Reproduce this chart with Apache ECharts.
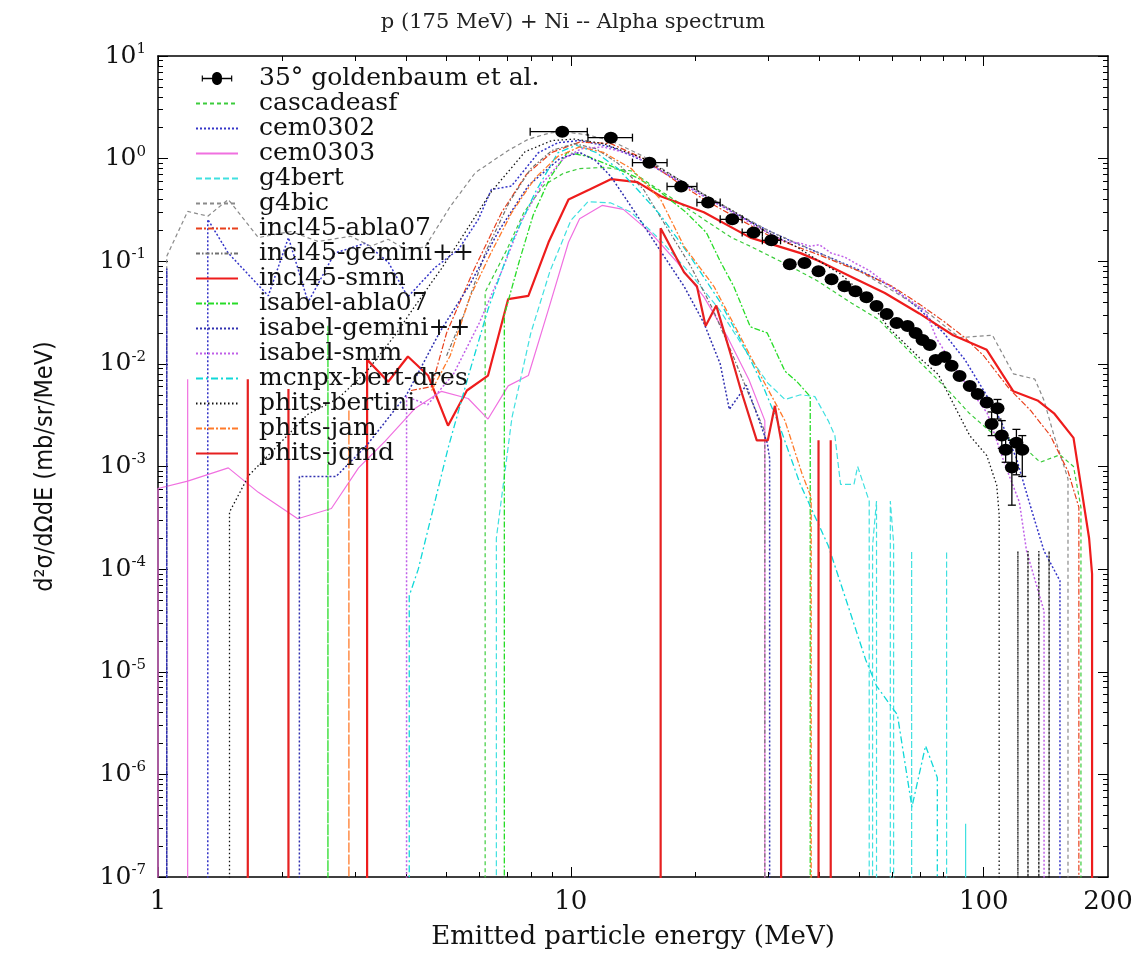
<!DOCTYPE html>
<html><head><meta charset="utf-8">
<script src="https://cdn.jsdelivr.net/npm/echarts@6/dist/echarts.min.js"></script>
<style>html,body{margin:0;padding:0;background:#fff}#chart{width:1146px;height:955px}</style>
</head><body><div id="chart"></div>
<script>
// ---- axis ticks / labels ----
const xLabelValues = [1, 10, 100, 200];
const xLabelTexts = ['1', '10', '100', '200'];
const xMajorTicks = [1, 10, 100];
const xMinorTicks = [2, 3, 4, 5, 6, 7, 8, 9, 20, 30, 40, 50, 60, 70, 80, 90];
const yLabelValues = [1e-7, 1e-6, 1e-5, 1e-4, 1e-3, 1e-2, 1e-1, 1, 10];
const yLabelExps = ['-7', '-6', '-5', '-4', '-3', '-2', '-1', '0', '1'];
const minorMultipliers = [2, 3, 4, 5, 6, 7, 8, 9];

// zero-valued bin (falls below the log axis and is clipped)
const Z = 1e-9;

// ---- experimental data: 35 deg, Goldenbaum et al. ----
const expE   = [9.53, 12.5, 15.5, 18.5, 21.5, 24.6, 27.7, 30.6, 33.9, 36.8, 39.8, 42.8, 46.0, 48.9, 52.0, 55.0, 58.2, 61.5, 65.4, 68.4, 71.1, 74.0, 76.5, 80.4, 83.6, 87.4, 92.5, 96.7, 101.7, 108, 104.5, 110.6, 113, 120, 124, 117];
const expV   = [1.83, 1.6, 0.914, 0.535, 0.374, 0.256, 0.191, 0.160, 0.0935, 0.096, 0.080, 0.0669, 0.0571, 0.0511, 0.0447, 0.0366, 0.0306, 0.025, 0.0234, 0.020, 0.0171, 0.0153, 0.0109, 0.0117, 0.0096, 0.0076, 0.0061, 0.0051, 0.0042, 0.0037, 0.0026, 0.0020, 0.00146, 0.0017, 0.00146, 0.00098];
const expELo = [7.97, 11.0, 14.1, 17.1, 20.2, 23.0, 26.0, 29.1, null, null, null, null, null, null, null, null, null, null, null, null, null, null, null, null, null, null, null, null, null, null, null, null, null, null, null, null];
const expEHi = [10.96, 14.1, 17.1, 20.2, 23.0, 26.0, 29.1, 32.2, null, null, null, null, null, null, null, null, null, null, null, null, null, null, null, null, null, null, null, null, null, null, null, null, null, null, null, null];
const expVLo = [null, null, null, null, null, null, null, null, null, null, null, null, null, null, null, null, null, null, null, null, null, null, null, null, null, null, null, null, null, 0.0029, 0.0020, 0.0015, 0.0011, 0.00083, 0.0008, 0.00042];
const expVHi = [null, null, null, null, null, null, null, null, null, null, null, null, null, null, null, null, null, null, null, null, null, null, null, null, null, null, null, null, null, 0.0045, 0.0034, 0.0028, 0.0019, 0.0023, 0.0020, 0.0018];

// ---- model calculations [energy MeV, d2sigma/dOmega dE] ----
const cascadeasf = [[6.2,Z],[6.2,0.05],[7.0,0.13],[7.7,0.3],[8.6,0.55],[9.6,0.72],[10.5,0.8],[12,0.82],[14,0.76],[15.6,0.56],[18.5,0.36],[21.5,0.24],[24.5,0.17],[27.2,0.14],[33,0.095],[39.4,0.065],[47.9,0.039],[55.7,0.027],[61.3,0.018],[69.9,0.0105],[81.1,0.0058],[92.3,0.0033],[105,0.0021],[122,0.0017],[137,0.0011],[153,0.0013],[165,0.001],[172,4e-4],[172,Z]];
const cem0302 = [[1.32,Z],[1.32,0.256],[1.48,0.12],[1.85,0.046],[2.07,0.17],[2.31,0.04],[2.68,0.12],[3.18,0.15],[3.61,0.098],[4.03,0.045],[4.69,0.087],[5.34,0.13],[5.97,0.256],[6.42,0.5],[7.18,0.54],[8.34,1.14],[9.3,1.43],[10.5,1.5],[12.5,1.3],[15,0.95],[18,0.62],[21,0.43],[25,0.29],[30,0.2],[35,0.15],[40,0.12],[50,0.082],[60,0.056],[70,0.034],[80,0.02],[90,0.011],[100,0.0055],[110,0.0028],[120,0.0012],[130,4e-4],[140,1.5e-4],[153,7.7e-5],[153,Z]];
const cem0303 = [[1.18,Z],[1.18,0.0071],[1.18,Z],[1.0,Z],[1.0,6.1e-4],[1.18,7.2e-4],[1.48,9.7e-4],[1.75,5.6e-4],[2.18,3.1e-4],[2.63,3.9e-4],[3.06,9.7e-4],[3.55,0.00177],[4.2,0.0037],[4.86,0.0054],[5.64,0.0046],[6.3,0.0029],[7.05,0.0061],[7.89,0.0077],[8.83,0.0342],[9.87,0.153],[10.5,0.26],[11.9,0.35],[13.4,0.32],[15.6,0.19],[18,0.1],[21,0.045],[24,0.018],[27,0.007],[29.5,0.0028],[29.5,Z]];
const g4bert = [[6.6,Z],[6.6,2e-4],[7.2,0.003],[8.0,0.02],[8.9,0.08],[10,0.25],[11,0.38],[12.5,0.37],[14,0.3],[16.5,0.16],[19.5,0.075],[23,0.033],[27,0.012],[30,0.0065],[33,0.0045],[36,0.005],[39,0.0048],[42,0.0028],[43.6,0.002],[45,6.7e-4],[48.5,6.7e-4],[49.5,1e-3],[52.8,4.6e-4],[52.8,Z],[53.8,Z],[53.8,1.7e-4],[55,4.6e-4],[55,Z],[59.4,Z],[59.4,4.6e-4],[60.5,1.8e-4],[60.5,Z],[66.9,Z],[66.9,1.5e-4],[66.9,Z],[81.3,Z],[81.3,1.5e-4],[81.3,Z],[90.4,Z],[90.4,3.3e-7],[90.4,Z]];
const g4bic = [[1.05,Z],[1.05,0.112],[1.18,0.306],[1.32,0.275],[1.48,0.4],[1.75,0.17],[2.1,0.195],[2.44,0.156],[2.93,0.175],[3.28,0.14],[3.61,0.164],[3.97,0.131],[4.43,0.137],[5.1,0.34],[5.87,0.73],[7.05,1.2],[7.9,1.55],[8.9,1.78],[9.6,1.83],[11,1.7],[12.5,1.5],[15,1.05],[18,0.65],[21,0.45],[25,0.3],[30,0.2],[40,0.12],[50,0.08],[60,0.052],[73.6,0.031],[87.4,0.018],[105,0.019],[118,0.008],[133,0.0071],[140,0.0044],[148,0.002],[160,7.6e-4],[160,Z]];
const incl45_abla07 = [[4.1,0.0055],[4.6,0.006],[5.0,0.02],[5.8,0.08],[6.8,0.3],[7.8,0.7],[9.0,1.15],[10.5,1.45],[12.5,1.4],[15,1.0],[18,0.6],[21,0.4],[25,0.27],[30,0.18],[35,0.14],[40,0.115],[50,0.08],[60,0.057],[70,0.038],[80,0.026],[90,0.018],[100,0.012],[115,0.0058],[130,0.0035],[145,0.002],[160,9e-4],[170,4e-4],[170,Z]];
const incl45_gemini = [[5.0,0.012],[5.5,0.03],[6.2,0.12],[7.1,0.38],[8.0,0.8],[9.0,1.2],[10.2,1.4],[11.5,1.25],[13,0.9],[15,0.5],[17,0.22],[19.5,0.09],[22,0.035],[24.5,0.013],[27,0.005],[29.5,0.0022],[29.5,Z]];
const incl45_smm = [[3.21,Z],[3.21,0.011],[3.61,0.0067],[4.03,0.0118],[4.51,0.0077],[5.04,0.0025],[5.6,0.0055],[6.3,0.0077],[7.05,0.0428],[7.89,0.046],[8.83,0.153],[9.87,0.4],[11.1,0.5],[12.5,0.63],[14.5,0.59],[16.5,0.43],[21,0.3],[27.2,0.17],[36,0.12],[40,0.1],[48,0.07],[57.6,0.049],[69.8,0.031],[84.3,0.019],[101.7,0.0137],[118,0.0054],[135,0.0044],[148,0.0033],[165,0.0019],[180,2e-4],[183,9e-5],[183,Z]];
const isabel_abla07 = [[2.58,Z],[2.58,0.0235],[2.58,Z],[6.9,Z],[6.9,0.03],[7.5,0.1],[8.1,0.28],[8.9,0.65],[9.8,1.15],[11,1.05],[12.5,0.85],[14.5,0.65],[16.5,0.47],[19,0.3],[21.3,0.19],[23,0.1],[24.8,0.057],[27.2,0.023],[29.9,0.02],[33,0.0085],[35.3,0.0067],[38,0.0048],[38,Z]];
const isabel_gemini = [[1.05,Z],[1.05,0.085],[1.05,Z],[2.2,Z],[2.2,8e-4],[2.7,8e-4],[3.2,1.6e-3],[4.0,5e-3],[4.8,0.02],[5.7,0.06],[6.7,0.2],[7.9,0.55],[9.4,1.0],[10.5,1.15],[11.5,0.95],[12.5,0.67],[14.3,0.3],[16.2,0.14],[18.8,0.057],[21,0.025],[23,0.01],[24.2,0.0036],[26.6,0.0062],[29.9,0.0017],[30.3,0.0012],[30.3,Z]];
const isabel_smm = [[4.0,Z],[4.0,0.0048],[4.5,0.004],[5.2,0.008],[6.0,0.025],[6.8,0.08],[7.6,0.25],[8.6,0.6],[9.6,1.0],[10.6,1.25],[12,1.3],[14,1.1],[17,0.72],[20,0.48],[24,0.32],[28,0.22],[33,0.156],[36,0.15],[38,0.14],[40,0.145],[42.7,0.12],[46,0.11],[49,0.095],[52.6,0.082],[56,0.068],[62.2,0.049],[66,0.042],[72.2,0.033],[77,0.0175],[87,0.008],[102,0.0033],[113,1e-3],[122,4.5e-4],[127,1.5e-4],[140,3.9e-5],[140,Z]];
const mcnpx_bert_dres = [[4.06,Z],[4.06,5.5e-5],[4.27,1e-4],[5.04,1.5e-3],[5.65,7.7e-3],[6.3,0.034],[7.2,0.153],[8.2,0.47],[9.3,1.14],[10.3,1.35],[11.5,1.15],[13,0.8],[14.5,0.5],[16.5,0.28],[19.5,0.11],[23,0.04],[26,0.016],[29,0.0065],[32,0.0025],[35.9,6.8e-4],[42,1.7e-4],[47,4.3e-5],[51.8,1.3e-5],[55,7.3e-6],[61.8,3.8e-6],[67,4.8e-7],[72.3,1.9e-6],[77.2,9.3e-7],[77.2,Z]];
const phits_bertini = [[1.49,Z],[1.49,3.6e-4],[1.66,8.2e-4],[1.95,1.6e-3],[2.3,3.2e-3],[2.73,4.6e-3],[3.2,8.4e-3],[3.75,0.019],[4.2,0.037],[4.85,0.084],[5.35,0.153],[6.4,0.47],[7.75,1.17],[9,1.5],[10.2,1.55],[12,1.4],[15,1.0],[20,0.5],[25,0.3],[30,0.19],[35,0.14],[40,0.1],[45,0.075],[52,0.045],[58.8,0.0226],[69.8,0.0115],[77.6,0.0079],[85.5,0.0037],[92.5,0.002],[101.7,0.00128],[107.5,6.6e-4],[109,3.4e-4],[109,Z],[121,Z],[121,1.5e-4],[121,Z],[128,Z],[128,1.5e-4],[128,Z],[136,Z],[136,1.5e-4],[136,Z],[144,Z],[144,1.5e-4],[144,Z]];
const phits_jam = [[4.6,0.0055],[5.1,0.012],[5.7,0.045],[6.4,0.12],[7.2,0.3],[8.2,0.65],[9.3,1.05],[10.5,1.3],[12,1.15],[14,0.8],[16.5,0.4],[18.8,0.14],[22.2,0.057],[25.3,0.021],[28.8,0.0077],[33,0.0028],[36.3,8.5e-4],[38.2,5e-4],[38.2,Z],[2.9,Z],[2.9,0.0036],[2.9,Z]];
const phits_jqmd = [[1.65,Z],[1.65,0.0071],[1.65,Z],[2.07,Z],[2.07,0.0057],[2.07,Z],[16.5,Z],[16.5,0.21],[18.8,0.078],[20.2,0.057],[21.2,0.0234],[22.5,0.037],[24.3,0.013],[25.8,0.0056],[28.2,0.0018],[30,0.0018],[31.2,0.0039],[32.3,0.0018],[32.3,Z],[39.8,Z],[39.8,0.0018],[39.8,Z],[42.6,Z],[42.6,0.0018],[42.6,Z]];

const models = [
  ['cascadeasf', cascadeasf, '#3ccc3c', [4, 3], 1.2],
  ['cem0302', cem0302, '#3535c8', [2, 2], 1.5],
  ['cem0303', cem0303, '#f070e0', 'solid', 1.2],
  ['g4bert', g4bert, '#40e0e0', [6, 3], 1.2],
  ['g4bic', g4bic, '#8a8a8a', [4, 3], 1.2],
  ['incl45-abla07', incl45_abla07, '#e8401c', [6, 2, 2, 2], 1.2],
  ['incl45-gemini++', incl45_gemini, '#707070', [4, 2, 1.5, 2], 1.2],
  ['incl45-smm', incl45_smm, '#ee1c1c', 'solid', 2.2],
  ['isabel-abla07', isabel_abla07, '#28dc28', [6, 2, 2, 2], 1.3],
  ['isabel-gemini++', isabel_gemini, '#3030b0', [2, 2], 1.5],
  ['isabel-smm', isabel_smm, '#c060e8', [2, 2], 1.5],
  ['mcnpx-bert-dres', mcnpx_bert_dres, '#10d8d8', [7, 3, 2, 3], 1.3],
  ['phits-bertini', phits_bertini, '#111111', [1.5, 2.5], 1.3],
  ['phits-jam', phits_jam, '#ff7a2a', [6, 2, 2, 2], 1.3],
  ['phits-jqmd', phits_jqmd, '#e62020', 'solid', 2.2]
];
const expName = '35\u00b0 goldenbaum et al.';

const yMinorTicks = [];
yLabelValues.slice(0, -1).forEach(d => minorMultipliers.forEach(m => yMinorTicks.push(m * d)));

const WIDESERIF = "'DejaVu Serif', 'Liberation Serif', serif";
const near = (a, b) => Math.abs(Math.log10(a) - Math.log10(b)) < 1e-6;

function xFmt(v) { const i = xLabelValues.findIndex(t => near(t, v)); return i >= 0 ? xLabelTexts[i] : ''; }
function yFmt(v) { const i = yLabelValues.findIndex(t => near(t, v)); return i >= 0 ? '{b|10}{s|' + yLabelExps[i] + '}' : ''; }

function xAxisDef(pos, major, withLabel) {
  return {
    type: 'log', logBase: 10, min: 1, max: 200, position: pos,
    axisLine: { show: major, onZero: false, lineStyle: { color: '#000', width: 1.5 } },
    axisTick: { show: true, inside: true, length: major ? 10 : 5, customValues: major ? xMajorTicks : xMinorTicks, lineStyle: { color: '#000', width: 1 } },
    axisLabel: withLabel ? { show: true, customValues: xLabelValues, formatter: xFmt, margin: 12, color: '#111', fontFamily: WIDESERIF, fontSize: 26 } : { show: false },
    splitLine: { show: false }, minorTick: { show: false },
    name: withLabel ? 'Emitted particle energy (MeV)' : '', nameLocation: 'middle', nameGap: 47,
    nameTextStyle: { fontFamily: WIDESERIF, fontSize: 26, color: '#111' }
  };
}
function yAxisDef(pos, major, withLabel) {
  return {
    type: 'log', logBase: 10, min: 1e-7, max: 10, position: pos,
    axisLine: { show: major, onZero: false, lineStyle: { color: '#000', width: 1.5 } },
    axisTick: { show: true, inside: true, length: major ? 10 : 5, customValues: major ? yLabelValues : yMinorTicks, lineStyle: { color: '#000', width: 1 } },
    axisLabel: withLabel ? {
      show: true, customValues: yLabelValues, formatter: yFmt, margin: 12, color: '#111',
      rich: { b: { fontFamily: WIDESERIF, fontSize: 25, color: '#111' }, s: { fontFamily: WIDESERIF, fontSize: 15, color: '#111', padding: [0, 0, 14, 0] } }
    } : { show: false },
    splitLine: { show: false }, minorTick: { show: false },
    name: withLabel ? 'd\u00b2\u03c3/d\u03a9dE (mb/sr/MeV)' : '', nameLocation: 'middle', nameGap: 100, nameRotate: 90,
    nameTextStyle: { fontFamily: "'DejaVu Sans Condensed', 'Liberation Sans Narrow', 'Liberation Sans', sans-serif", fontSize: 25, color: '#111' }
  };
}

const series = models.map(([name, data, color, type, width]) => ({
  name, type: 'line', data, symbol: 'none', clip: true, animation: false,
  xAxisIndex: 0, yAxisIndex: 0,
  lineStyle: { color, type, width }, itemStyle: { color }, z: 2
}));

const expPoints = expE.map((e, i) => [e, expV[i]]);
const expErr = expE.map((e, i) => [e, expV[i], expELo[i], expEHi[i], expVLo[i], expVHi[i]]);

series.push({
  type: 'custom', xAxisIndex: 0, yAxisIndex: 0, z: 4, animation: false,
  encode: { x: 0, y: 1 }, data: expErr, silent: true,
  renderItem(params, api) {
    const V = api.value(1), E = api.value(0);
    const eLo = api.value(2), eHi = api.value(3), vLo = api.value(4), vHi = api.value(5);
    const st = { stroke: '#000', lineWidth: 1.3 };
    const ch = [];
    if (eLo > 0 && eHi > 0) {
      const a = api.coord([eLo, V]), b = api.coord([eHi, V]);
      ch.push({ type: 'line', shape: { x1: a[0], y1: a[1], x2: b[0], y2: b[1] }, style: st });
      ch.push({ type: 'line', shape: { x1: a[0], y1: a[1] - 4, x2: a[0], y2: a[1] + 4 }, style: st });
      ch.push({ type: 'line', shape: { x1: b[0], y1: b[1] - 4, x2: b[0], y2: b[1] + 4 }, style: st });
    }
    if (vLo > 0 && vHi > 0) {
      const a = api.coord([E, vLo]), b = api.coord([E, vHi]);
      ch.push({ type: 'line', shape: { x1: a[0], y1: a[1], x2: b[0], y2: b[1] }, style: st });
      ch.push({ type: 'line', shape: { x1: a[0] - 4, y1: a[1], x2: a[0] + 4, y2: a[1] }, style: st });
      ch.push({ type: 'line', shape: { x1: b[0] - 4, y1: b[1], x2: b[0] + 4, y2: b[1] }, style: st });
    }
    return { type: 'group', children: ch };
  }
});
series.push({
  name: expName, type: 'scatter', data: expPoints, xAxisIndex: 0, yAxisIndex: 0,
  symbol: 'circle', symbolSize: [14, 12], itemStyle: { color: '#000', opacity: 1 }, z: 5, animation: false
});

const legendData = [{ name: expName, icon: 'path://M0,6H1.5V9H13.58A6.5,6.5 0 1 1 26.42,9H38.5V6H40V14H38.5V11H26.42A6.5,6.5 0 1 1 13.58,11H1.5V14H0Z', itemStyle: { color: '#000', opacity: 1 } }]
  .concat(models.map(m => ({ name: m[0], itemStyle: { opacity: 0 } })));

const chart = echarts.init(document.getElementById('chart'), null, { renderer: 'canvas' });
chart.setOption({
  backgroundColor: '#fff',
  animation: false,
  title: { text: 'p (175 MeV) + Ni -- Alpha spectrum', left: 'center', top: 7,
    textStyle: { fontFamily: WIDESERIF, fontSize: 21, fontWeight: 'normal', color: '#222' } },
  grid: { left: 158, right: 38, top: 56, bottom: 75, containLabel: false },
  legend: {
    data: legendData, orient: 'vertical', left: 195, top: 66, padding: 0,
    itemWidth: 42, itemHeight: 13, itemGap: 0, selectedMode: false,
    textStyle: { fontFamily: WIDESERIF, fontSize: 25, lineHeight: 23.4, color: '#111', padding: [0, 0, 0, 16] }
  },
  xAxis: [xAxisDef('bottom', true, true), xAxisDef('bottom', false, false), xAxisDef('top', true, false), xAxisDef('top', false, false)],
  yAxis: [yAxisDef('left', true, true), yAxisDef('left', false, false), yAxisDef('right', true, false), yAxisDef('right', false, false)],
  series
});
</script></body></html>
